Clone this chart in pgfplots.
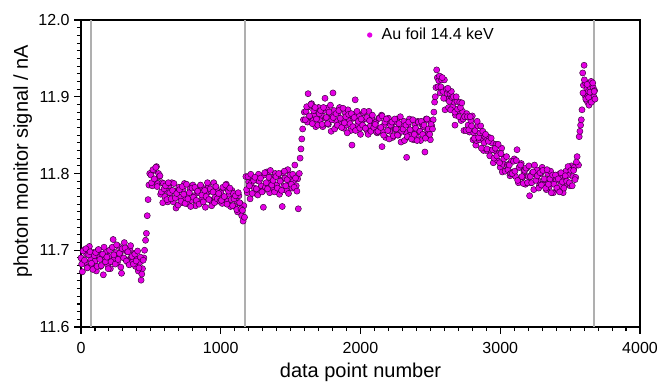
\documentclass[border=0pt]{standalone}
\usepackage{fontspec}
\setmainfont{Liberation Sans}
\usepackage{pgfplots}
\pgfplotsset{compat=1.18}
\definecolor{mymag}{RGB}{228,0,228}
\definecolor{vline}{RGB}{175,175,175}
\pgfplotsset{dotstyle/.style={only marks, mark=*, mark size=2.3pt, mark options={fill=mymag, draw=black!75!mymag, line width=0.35pt}}}
\begin{document}
\begin{tikzpicture}
\begin{axis}[
  scale only axis,
  width=419.25pt, height=230.25pt,
  xmin=0, xmax=4000, ymin=11.6, ymax=12.0,
  xtick={0,1000,2000,3000,4000},
  ytick={11.6,11.7,11.8,11.9,12.0},
  minor xtick={100,200,...,3900},
  minor ytick={11.61,11.62,...,11.995},
  tick pos=left,
  tick align=outside,
  major tick length=5pt,
  minor tick length=3pt,
  tick style={black, line width=0.8pt},
  axis line style={black, line width=0.8pt},
  /pgf/number format/assume math mode=true,
  xticklabel style={font=\fontsize{12}{14}\selectfont, yshift=-3pt, /pgf/number format/.cd, fixed, precision=0, set thousands separator={}},
  yticklabel style={font=\fontsize{12}{14}\selectfont, /pgf/number format/.cd, fixed, fixed zerofill, precision=1},
  xlabel={data point number},
  ylabel={photon monitor signal / nA},
  label style={font=\fontsize{15}{17}\selectfont},
  xlabel style={yshift=0pt},
  ylabel style={at={(ticklabel cs:0.54)}, yshift=-2pt},
  legend style={at={(axis description cs:0.511,0.951)}, anchor=west, draw=none, fill=none,
    font=\fontsize{12}{14}\selectfont, inner sep=0pt},
  legend image code/.code={\path[draw=none,fill=none] (-2.1pt,0pt) rectangle (7pt,0pt);\fill[mymag, draw=none] (0pt,0pt) circle (2.0pt);},
]
\addplot[vline, line width=0.9pt, forget plot] coordinates {(72,11.6) (72,12.0)};
\addplot[vline, line width=0.9pt, forget plot] coordinates {(1173,11.6) (1173,12.0)};
\addplot[vline, line width=0.9pt, forget plot] coordinates {(3671,11.6) (3671,12.0)};
\addplot[dotstyle] coordinates {
(0,11.690)(10,11.672)(20,11.700)(30,11.683)(40,11.695)(50,11.678)(60,11.705)(70,11.688)(80,11.680)(90,11.697)
(100,11.686)(110,11.673)(120,11.700)(130,11.691)(140,11.679)(150,11.694)(160,11.668)(170,11.687)(180,11.699)(190,11.681)
(200,11.692)(210,11.676)(220,11.703)(230,11.714)(240,11.689)(250,11.697)(260,11.684)(270,11.705)(280,11.693)(290,11.670)
(300,11.700)(310,11.710)(320,11.688)(330,11.698)(340,11.683)(350,11.702)(360,11.691)(370,11.685)(380,11.696)(390,11.679)
(400,11.688)(410,11.673)(420,11.684)(430,11.661)(440,11.676)(450,11.690)
(455,11.700)(462,11.713)(468,11.722)(474,11.745)(480,11.766)(486,11.785)(492,11.800)
(500,11.798)(510,11.784)(520,11.804)(530,11.791)(540,11.809)(550,11.787)(560,11.796)(570,11.773)(580,11.788)(590,11.787)
(600,11.770)(610,11.778)(620,11.763)(630,11.784)(640,11.774)(650,11.788)(660,11.763)(670,11.777)(680,11.755)(690,11.776)
(700,11.782)(710,11.769)(720,11.762)(730,11.779)(740,11.787)(750,11.767)(760,11.772)(770,11.760)(780,11.781)(790,11.765)
(800,11.785)(810,11.771)(820,11.758)(830,11.778)(840,11.775)(850,11.763)(860,11.783)(870,11.768)(880,11.780)(890,11.756)
(900,11.774)(910,11.784)(920,11.766)(930,11.777)(940,11.761)(950,11.788)(960,11.769)(970,11.779)(980,11.764)(990,11.773)
(1000,11.775)(1010,11.761)(1020,11.781)(1030,11.768)(1040,11.786)(1050,11.764)(1060,11.773)(1070,11.757)(1080,11.778)(1090,11.774)
(1100,11.757)(1110,11.765)(1120,11.750)(1130,11.771)(1140,11.761)(1150,11.745)(1160,11.738)(1165,11.758)(1170,11.743)
(1180,11.796)(1190,11.775)(1200,11.789)(1210,11.767)(1220,11.788)(1230,11.794)(1240,11.781)(1250,11.774)(1260,11.791)(1270,11.799)
(1280,11.779)(1290,11.784)(1300,11.777)(1305,11.756)(1310,11.798)(1320,11.782)(1330,11.802)(1340,11.788)(1350,11.775)(1360,11.795)
(1370,11.792)(1380,11.780)(1390,11.800)(1400,11.785)(1410,11.797)(1420,11.773)(1430,11.791)(1440,11.757)(1445,11.801)(1450,11.783)
(1460,11.794)(1470,11.778)(1480,11.805)(1490,11.786)(1500,11.796)(1510,11.781)(1520,11.790)(1530,11.811)(1540,11.784)(1550,11.793)
(1555,11.754)(1562,11.800)(1568,11.820)(1574,11.832)(1580,11.845)(1586,11.858)(1592,11.870)(1598,11.880)
(1610,11.881)(1620,11.867)(1625,11.904)(1630,11.887)(1640,11.874)(1650,11.891)(1660,11.869)(1670,11.877)(1680,11.861)(1690,11.881)
(1700,11.886)(1710,11.869)(1720,11.876)(1730,11.861)(1740,11.882)(1746,11.898)(1750,11.872)(1760,11.885)(1770,11.864)(1780,11.878)
(1790,11.855)(1800,11.876)(1803,11.905)(1810,11.882)(1820,11.869)(1830,11.862)(1840,11.879)(1850,11.886)(1860,11.866)(1870,11.871)
(1880,11.859)(1890,11.879)(1900,11.863)(1910,11.883)(1920,11.869)(1930,11.856)(1939,11.837)(1940,11.875)(1950,11.872)(1960,11.859)
(1962,11.896)(1970,11.879)(1980,11.864)(1990,11.875)(2000,11.851)(2010,11.869)(2020,11.879)(2030,11.860)(2040,11.871)(2050,11.855)
(2060,11.881)(2070,11.862)(2080,11.872)(2090,11.857)(2100,11.865)(2110,11.867)(2120,11.853)(2130,11.872)(2140,11.859)(2150,11.876)
(2154,11.835)(2160,11.854)(2170,11.863)(2180,11.847)(2190,11.867)(2200,11.872)(2210,11.855)(2220,11.862)(2230,11.847)(2240,11.867)
(2250,11.857)(2260,11.871)(2270,11.850)(2280,11.863)(2290,11.841)(2300,11.862)(2310,11.868)(2320,11.854)(2330,11.821)(2340,11.863)
(2350,11.871)(2360,11.851)(2370,11.856)(2380,11.844)(2390,11.864)(2400,11.848)(2410,11.868)(2420,11.855)(2430,11.843)(2440,11.864)
(2450,11.861)(2460,11.850)(2461,11.828)(2470,11.871)(2480,11.856)(2490,11.869)(2500,11.844)(2510,11.862)(2520,11.870)
(2525,11.880)(2530,11.893)(2535,11.900)(2540,11.912)(2545,11.935)(2550,11.925)
(2560,11.921)(2570,11.905)(2580,11.922)(2590,11.907)(2600,11.922)(2605,11.883)(2610,11.898)(2620,11.904)(2630,11.886)(2640,11.904)
(2650,11.907)(2660,11.887)(2670,11.893)(2676,11.863)(2680,11.876)(2690,11.894)(2700,11.882)(2710,11.893)(2720,11.869)(2730,11.881)
(2740,11.856)(2750,11.874)(2760,11.878)(2770,11.863)(2780,11.854)(2790,11.869)(2800,11.875)(2805,11.844)(2810,11.853)(2820,11.856)
(2825,11.837)(2830,11.843)(2840,11.862)(2850,11.844)(2860,11.862)(2870,11.846)(2880,11.830)(2890,11.848)(2900,11.843)(2910,11.829)
(2920,11.847)(2930,11.830)(2940,11.840)(2950,11.814)(2960,11.830)(2970,11.838)(2980,11.817)(2990,11.826)(3000,11.808)(3010,11.833)
(3020,11.812)(3030,11.821)(3040,11.804)(3050,11.811)(3060,11.812)(3070,11.797)(3080,11.816)(3090,11.802)(3100,11.819)(3110,11.796)
(3120,11.831)(3130,11.788)(3140,11.808)(3150,11.813)(3160,11.795)(3170,11.802)(3180,11.786)(3190,11.807)(3200,11.796)(3210,11.771)
(3220,11.788)(3230,11.801)(3240,11.779)(3250,11.799)(3260,11.805)(3270,11.791)(3280,11.784)(3290,11.800)(3300,11.808)(3310,11.787)
(3320,11.792)(3330,11.779)(3340,11.800)(3350,11.783)(3360,11.803)(3370,11.788)(3380,11.775)(3390,11.794)(3400,11.791)(3410,11.779)
(3420,11.799)(3430,11.784)(3440,11.797)(3450,11.775)(3460,11.792)(3470,11.803)(3480,11.786)(3490,11.798)(3500,11.784)(3510,11.810)
(3520,11.796)(3530,11.808)(3540,11.795)(3550,11.822)
(3560,11.811)(3565,11.848)(3570,11.855)(3575,11.863)(3580,11.870)(3585,11.883)
(3590,11.931)(3595,11.915)(3600,11.941)(3605,11.902)(3610,11.918)(3615,11.896)(3620,11.910)(3625,11.893)(3630,11.907)(3635,11.889)
(3640,11.913)(3645,11.899)(3650,11.920)(3655,11.904)(3660,11.895)(3665,11.912)(3670,11.900)(3675,11.908)
};
\addlegendentry{Au foil 14.4 keV}
\addplot[dotstyle, forget plot] coordinates {
(5,11.682)(15,11.699)(25,11.687)(35,11.702)(45,11.677)(55,11.694)(65,11.698)(75,11.683)(85,11.675)(95,11.693)
(105,11.697)(115,11.679)(125,11.701)(135,11.688)(145,11.680)(155,11.695)(165,11.704)(175,11.685)(185,11.691)(195,11.676)
(205,11.700)(215,11.685)(225,11.704)(235,11.694)(245,11.682)(255,11.707)(265,11.688)(275,11.696)(285,11.678)(295,11.702)
(305,11.690)(315,11.703)(325,11.686)(335,11.698)(345,11.681)(355,11.706)(365,11.692)(375,11.682)(385,11.695)(395,11.686)
(405,11.699)(415,11.677)(425,11.691)(435,11.669)(445,11.687)
(505,11.788)(515,11.805)(525,11.793)(535,11.808)(545,11.783)(555,11.800)(565,11.797)(575,11.776)(585,11.762)(595,11.780)
(605,11.784)(615,11.766)(625,11.788)(635,11.775)(645,11.767)(655,11.778)(665,11.787)(675,11.768)(685,11.774)(695,11.759)
(705,11.779)(715,11.764)(725,11.783)(735,11.773)(745,11.761)(755,11.786)(765,11.767)(775,11.775)(785,11.757)(795,11.781)
(805,11.769)(815,11.782)(825,11.765)(835,11.777)(845,11.760)(855,11.785)(865,11.772)(875,11.763)(885,11.778)(895,11.770)
(905,11.788)(915,11.766)(925,11.780)(935,11.758)(945,11.776)(955,11.762)(965,11.783)(975,11.767)(985,11.774)(995,11.764)
(1005,11.765)(1015,11.782)(1025,11.770)(1035,11.785)(1045,11.760)(1055,11.777)(1065,11.781)(1075,11.766)(1085,11.758)(1095,11.767)
(1105,11.771)(1115,11.753)(1125,11.775)(1135,11.762)(1145,11.754)(1155,11.752)
(1185,11.779)(1195,11.796)(1205,11.784)(1215,11.799)(1225,11.774)(1235,11.791)(1245,11.795)(1255,11.780)(1265,11.772)(1275,11.790)
(1285,11.794)(1295,11.776)(1315,11.801)(1325,11.788)(1335,11.780)(1345,11.795)(1355,11.804)(1365,11.785)(1375,11.791)(1385,11.776)
(1395,11.796)(1405,11.781)(1415,11.800)(1425,11.790)(1435,11.778)(1455,11.803)(1465,11.784)(1475,11.792)(1485,11.774)(1495,11.798)
(1505,11.786)(1515,11.799)(1525,11.782)(1535,11.794)(1545,11.777)
(1605,11.870)(1615,11.887)(1635,11.875)(1645,11.890)(1655,11.865)(1665,11.882)(1675,11.886)(1685,11.871)(1695,11.863)(1705,11.878)
(1715,11.882)(1725,11.864)(1735,11.886)(1755,11.873)(1765,11.865)(1775,11.880)(1785,11.889)(1795,11.870)(1805,11.873)(1815,11.858)
(1825,11.878)(1835,11.863)(1845,11.882)(1855,11.872)(1865,11.860)(1875,11.885)(1885,11.866)(1895,11.874)(1905,11.853)(1915,11.877)
(1925,11.865)(1935,11.878)(1945,11.861)(1955,11.873)(1965,11.856)(1975,11.881)(1985,11.868)(1995,11.859)(2005,11.871)(2015,11.863)
(2025,11.881)(2035,11.859)(2045,11.873)(2055,11.851)(2065,11.869)(2075,11.855)(2085,11.876)(2095,11.860)(2105,11.864)(2115,11.854)
(2125,11.855)(2135,11.872)(2145,11.860)(2155,11.875)(2165,11.850)(2175,11.867)(2185,11.871)(2195,11.856)(2205,11.845)(2215,11.863)
(2225,11.867)(2235,11.849)(2245,11.871)(2255,11.858)(2265,11.850)(2275,11.865)(2285,11.874)(2295,11.855)(2305,11.858)(2315,11.843)
(2325,11.863)(2335,11.848)(2345,11.867)(2355,11.857)(2365,11.845)(2375,11.870)(2385,11.851)(2395,11.859)(2405,11.843)(2415,11.867)
(2425,11.855)(2435,11.868)(2445,11.851)(2455,11.863)(2465,11.846)(2475,11.871)(2485,11.858)(2495,11.851)(2505,11.864)(2515,11.858)
(2555,11.913)(2565,11.927)(2575,11.913)(2585,11.925)(2595,11.898)(2615,11.910)(2625,11.911)(2635,11.894)(2645,11.883)(2655,11.899)
(2665,11.900)(2675,11.880)(2685,11.900)(2695,11.884)(2705,11.874)(2715,11.886)(2725,11.892)(2735,11.871)(2745,11.874)(2755,11.856)
(2765,11.874)(2775,11.857)(2785,11.874)(2795,11.862)(2815,11.846)(2835,11.868)(2845,11.847)(2855,11.853)(2865,11.833)(2875,11.855)
(2885,11.840)(2895,11.851)(2905,11.832)(2915,11.842)(2925,11.823)(2935,11.846)(2945,11.831)(2955,11.820)(2965,11.833)(2975,11.823)
(2985,11.838)(2995,11.814)(3005,11.826)(3015,11.802)(3025,11.819)(3035,11.803)(3045,11.822)(3055,11.805)(3065,11.811)(3075,11.800)
(3085,11.800)(3095,11.816)(3105,11.803)(3115,11.817)(3125,11.791)(3135,11.808)(3145,11.811)(3155,11.796)(3165,11.787)(3175,11.804)
(3185,11.807)(3195,11.788)(3205,11.810)(3215,11.796)(3225,11.788)(3235,11.802)(3245,11.811)(3255,11.791)(3265,11.797)(3275,11.781)
(3285,11.801)(3295,11.785)(3305,11.804)(3315,11.793)(3325,11.781)(3335,11.805)(3345,11.786)(3355,11.793)(3365,11.775)(3375,11.798)
(3385,11.786)(3395,11.798)(3405,11.781)(3415,11.793)(3425,11.776)(3435,11.801)(3445,11.789)(3455,11.781)(3465,11.797)(3475,11.790)
(3485,11.809)(3495,11.788)(3505,11.804)(3515,11.784)(3525,11.804)(3535,11.792)(3545,11.815)
(3592,11.905)(3602,11.922)(3612,11.897)(3622,11.916)(3632,11.899)(3642,11.906)(3652,11.893)(3662,11.918)(3672,11.907)(3678,11.897)
};
\coordinate (aSW) at (rel axis cs:0,0);
\coordinate (aNE) at (rel axis cs:1,1);
\end{axis}
\pgfresetboundingbox
\path[use as bounding box] ([xshift=-60.75pt,yshift=-43.5pt]aSW) rectangle ([xshift=13.5pt,yshift=15pt]aNE);
\end{tikzpicture}
\end{document}
